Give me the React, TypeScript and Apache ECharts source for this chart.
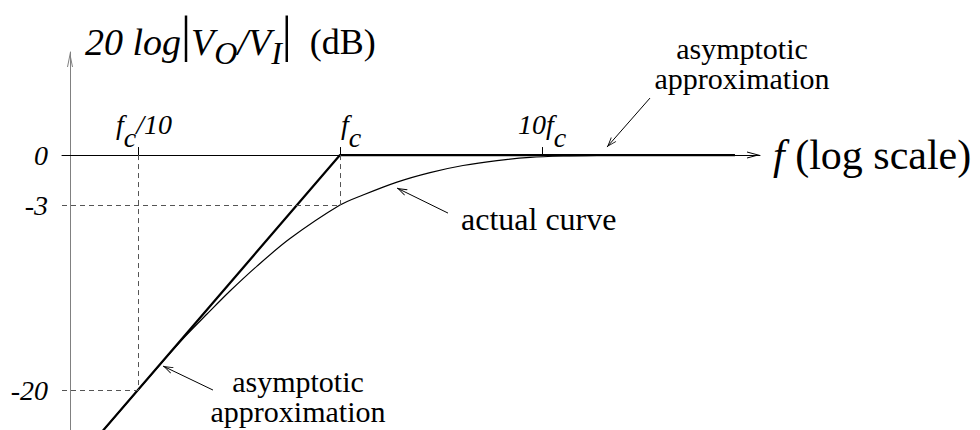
import React, { useEffect, useRef } from "react";
import * as echarts from "echarts";

// ---- axis ranges (x = f / fc on a log scale, y = dB as drawn on the sketch) ----
const X_MIN = 0.04205;
const X_MAX = 120;
const Y_MIN = -23.4;
const Y_MAX = 8.77;

// ---- ticks ----
const xTickValues = [0.1, 1, 10];
const xTickLabels = ["{sp1|}{f|f}{c|c}{f|/10}", "{sp2|}{f|f}{c|c}", "{f|10f}{c|c}"];
const yTickLabels = ["0", "-3", "-20"];
const yTickLevels = [0, -4.26, -20]; // drawn levels of the (not-to-scale) sketch

// ---- asymptotic approximation ----
const asymptoteF = [0.05, 1, 90.2];
const asymptoteDb = [-26, 0, 0];

// ---- actual curve ----
const curveF = [0.05, 0.0989, 0.136, 0.1709, 0.2196, 0.2854, 0.3882, 0.5655, 1, 1.2997, 1.915, 2.7907, 4.0634, 5.9885, 8.7218, 12.704, 18.725, 34.25, 76];
const curveDb = [-26, -20.1, -17.35, -15.45, -13.53, -11.57, -9.45, -7.11, -4.26, -3.4, -2.3, -1.49, -0.89, -0.47, -0.2, -0.08, -0.03, 0, 0];

// ---- annotation arrows: [fromF, fromDb, toF, toDb] ----
const arrowTop = [34.25, 4.85, 20.98, 0.68];
const arrowActual = [3.425, -4.94, 1.915, -2.81];
const arrowBottom = [0.2351, -20.0, 0.133, -17.96];

const SERIF = "Liberation Serif";

// open arrowheads, tip at the centre of the bounding box
const Y_ARROW = "path://M0,0 L3,15 L2,15 L0,5 L-2,15 L-3,15 Z M0,-15 L0.01,-15 L0,-14.99 Z";
const X_ARROW = "path://M0,0 L3.5,13 L2.5,13 L0,3.71 L-2.5,13 L-3.5,13 Z M0,-13 L0.01,-13 L0,-12.99 Z";
const NOTE_ARROW = "path://M0,0 L3.5,10 L2.6,10 L0,2.57 L-2.6,10 L-3.5,10 Z M0,-10 L0.01,-10 L0,-9.99 Z";

export default function App() {
  const ref = useRef<HTMLDivElement>(null);

  useEffect(() => {
    document.body.style.margin = "0";
    const chart = echarts.init(ref.current!, undefined, { renderer: "svg" });

    const pickY = (v: number) => {
      let best = 0;
      let bd = Infinity;
      yTickLevels.forEach((t, i) => {
        const d = Math.abs(v - t);
        if (d < bd) {
          bd = d;
          best = i;
        }
      });
      return best;
    };

    const noteLine = (a: number[]) => [
      { coord: [a[0], a[1]], symbol: "none" },
      { coord: [a[2], a[3]], symbol: NOTE_ARROW },
    ];

    const italic = { fontFamily: SERIF, fontStyle: "italic", color: "#000" };

    chart.setOption({
      animation: false,
      backgroundColor: "#fff",
      grid: { left: 62, right: 220, top: 52, bottom: 0 },
      xAxis: {
        type: "log",
        logBase: 10,
        min: X_MIN,
        max: X_MAX,
        name: "{i|f} (log scale)",
        nameLocation: "end",
        nameGap: 13,
        nameTextStyle: {
          fontFamily: SERIF,
          fontSize: 42,
          color: "#000",
          verticalAlign: "middle",
          align: "left",
          rich: { i: { ...italic, fontSize: 42 } },
        },
        axisLine: {
          show: true,
          onZero: true,
          symbol: ["none", X_ARROW],
          symbolSize: [7, 26],
          lineStyle: { color: "#000", width: 1 },
        },
        axisTick: {
          show: true,
          inside: true,
          length: 8,
          customValues: xTickValues,
          lineStyle: { color: "#000", width: 1 },
        },
        minorTick: { show: false },
        splitLine: { show: false },
        axisLabel: { show: false },
      },
      yAxis: {
        type: "value",
        min: Y_MIN,
        max: Y_MAX,
        offset: -8,
        axisLine: {
          show: true,
          onZero: false,
          symbol: ["none", Y_ARROW],
          symbolSize: [6, 30],
          lineStyle: { color: "#808080", width: 1 },
        },
        axisTick: { show: false },
        splitLine: { show: false },
        axisLabel: {
          show: true,
          margin: 22,
          customValues: yTickLevels,
          formatter: (v: number) => yTickLabels[pickY(v)],
          ...italic,
          fontSize: 28,
        },
      },
      series: [
        {
          type: "line",
          name: "asymptotic approximation",
          data: asymptoteF.map((f, i) => [f, asymptoteDb[i]]),
          symbol: "none",
          lineStyle: { color: "#000", width: 2.2 },
          z: 3,
          silent: true,
          markLine: {
            silent: true,
            symbol: "none",
            label: { show: false },
            emphasis: { disabled: true },
            lineStyle: { color: "#555", width: 1, type: [5, 4] },
            data: [
              [{ coord: [xTickValues[0], 0] }, { coord: [xTickValues[0], yTickLevels[2]] }],
              [{ coord: [X_MIN, yTickLevels[2]] }, { coord: [xTickValues[0], yTickLevels[2]] }],
              [{ coord: [xTickValues[1], 0] }, { coord: [xTickValues[1], yTickLevels[1]] }],
              [{ coord: [X_MIN, yTickLevels[1]] }, { coord: [xTickValues[1], yTickLevels[1]] }],
            ],
          },
          markPoint: {
            silent: true,
            symbol: "circle",
            symbolSize: 0,
            itemStyle: { color: "transparent" },
            emphasis: { disabled: true },
            label: {
              show: true,
              position: "inside",
              align: "center",
              verticalAlign: "middle",
              offset: [0, -31],
              formatter: (p: any) => xTickLabels[p.data.idx],
              rich: {
                f: { ...italic, fontSize: 28, lineHeight: 28 },
                c: { ...italic, fontSize: 28, lineHeight: 28, padding: [26, 0, 0, 0] },
                sp1: { width: 12, lineHeight: 28 },
                sp2: { width: 22, lineHeight: 28 },
              },
            },
            data: xTickValues.map((v, i) => ({ coord: [v, 0], idx: i, value: v })),
          },
        },
        {
          type: "line",
          name: "actual curve",
          data: curveF.map((f, i) => [f, curveDb[i]]),
          symbol: "none",
          smooth: 0.3,
          lineStyle: { color: "#000", width: 1.2 },
          z: 2,
          silent: true,
          markLine: {
            silent: true,
            symbolSize: [7, 20],
            label: { show: false },
            emphasis: { disabled: true },
            lineStyle: { color: "#000", width: 1, type: "solid" },
            data: [noteLine(arrowTop), noteLine(arrowActual), noteLine(arrowBottom)],
          },
        },
      ],
      graphic: [
        {
          type: "text",
          x: 85,
          y: 42,
          silent: true,
          style: {
            text: "{i|20 log}{bar||}{i|V}{sub|O}{i|/V}{sub|I}{bar||}{db|  (dB)}",
            align: "left",
            verticalAlign: "middle",
            rich: {
              i: { fontFamily: SERIF, fontStyle: "italic", fontSize: 38, lineHeight: 44, fill: "#000" },
              sub: { fontFamily: SERIF, fontStyle: "italic", fontSize: 32, lineHeight: 44, padding: [22, 0, 0, 0], fill: "#000" },
              bar: { fontFamily: SERIF, fontSize: 50, lineHeight: 44, padding: [0, 0, 16, 0], fill: "#000" },
              db: { fontFamily: SERIF, fontSize: 36, lineHeight: 44, fill: "#000" },
            },
          },
        },
        {
          type: "text",
          x: 742,
          y: 63.5,
          silent: true,
          style: {
            text: "asymptotic\napproximation",
            align: "center",
            verticalAlign: "middle",
            fontFamily: SERIF,
            fontSize: 30,
            lineHeight: 30,
            fill: "#000",
          },
        },
        {
          type: "text",
          x: 461,
          y: 219,
          silent: true,
          style: {
            text: "actual curve",
            align: "left",
            verticalAlign: "middle",
            fontFamily: SERIF,
            fontSize: 32,
            fill: "#000",
          },
        },
        {
          type: "text",
          x: 298,
          y: 396.5,
          silent: true,
          style: {
            text: "asymptotic\napproximation",
            align: "center",
            verticalAlign: "middle",
            fontFamily: SERIF,
            fontSize: 30,
            lineHeight: 30,
            fill: "#000",
          },
        },
      ],
    });

    return () => chart.dispose();
  }, []);

  return (
    <div
      ref={ref}
      style={{ position: "fixed", left: 0, top: 0, width: 980, height: 430, background: "#fff" }}
    />
  );
}
